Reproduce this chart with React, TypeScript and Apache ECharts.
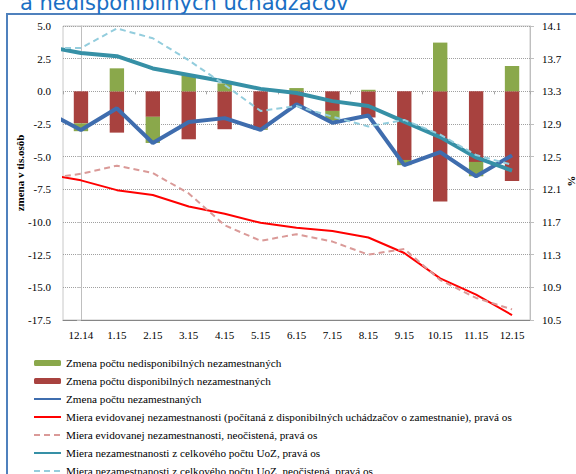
import React, { useEffect, useRef } from "react";
import * as echarts from "echarts";

const categories = ["12.14", "1.15", "2.15", "3.15", "4.15", "5.15", "6.15", "7.15", "8.15", "9.15", "10.15", "11.15", "12.15"];
// line series include the preceding month (11.14), clipped at the plot edge as in the source
const lineMonths = ["11.14", ...categories];

const nedisponibilni = [-0.6, 1.76, -2.0, 1.25, 0.61, -0.1, 0.25, -0.75, 0.12, -0.4, 3.73, -1.1, 1.94];
const disponibilni = [-2.45, -3.16, -1.95, -3.67, -2.9, -2.85, -1.2, -1.5, -2.0, -5.25, -8.44, -5.4, -6.86];
const zmenaSpolu = [-1.5, -2.96, -1.3, -3.95, -2.35, -2.05, -2.95, -1.0, -2.4, -1.85, -5.65, -4.65, -6.5, -4.9];
const mieraEvid = [12.29, 12.21, 12.09, 12.03, 11.89, 11.8, 11.69, 11.63, 11.59, 11.51, 11.32, 11.01, 10.81, 10.56];
const mieraEvidNeoc = [12.23, 12.29, 12.39, 12.3, 12.05, 11.66, 11.47, 11.55, 11.46, 11.3, 11.37, 10.99, 10.77, 10.63];
const mieraUoZ = [13.85, 13.77, 13.73, 13.58, 13.5, 13.42, 13.33, 13.28, 13.18, 13.12, 12.93, 12.74, 12.49, 12.33];
const mieraUoZNeoc = [13.83, 13.83, 14.07, 13.95, 13.68, 13.38, 13.06, 13.12, 12.99, 12.87, 12.95, 12.77, 12.52, 12.4];

const rightMin = 10.5;
const rightMax = 14.1;
const rightStep = 0.4;

const names = {
  green: "Zmena počtu nedisponibilných nezamestnaných",
  red: "Zmena počtu disponibilných nezamestnaných",
  blue: "Zmena počtu nezamestnaných",
  evid: "Miera evidovanej nezamestnanosti (počítaná z disponibilných uchádzačov o zamestnanie), pravá os",
  evidN: "Miera evidovanej nezamestnanosti, neočistená, pravá os",
  uoz: "Miera nezamestnanosti z celkového počtu UoZ, pravá os",
  uozN: "Miera nezamestnanosti z celkového počtu UoZ, neočistená, pravá os",
};

const serif = "Liberation Serif";
const legendText = { fontFamily: serif, fontSize: 11.2, color: "#000", lineHeight: 14 };

function lineData(vals: number[], offset: number) {
  return vals.map((v, i) => [i - 1, +(v - offset).toFixed(4)]);
}

const item = (name: string, hideSymbol: boolean) =>
  hideSymbol ? { name, itemStyle: { opacity: 0 }, textStyle: legendText } : { name, textStyle: legendText };

export default function App() {
  const ref = useRef<HTMLDivElement>(null);
  useEffect(() => {
    if (!ref.current) return;
    const chart = echarts.init(ref.current, undefined, { renderer: "svg" });
    const lineBase = { type: "line", xAxisIndex: 2, symbol: "none", showSymbol: false, clip: true, z: 3 };
    const legendBase = {
      orient: "vertical",
      left: 33,
      itemWidth: 27,
      itemHeight: 6,
      itemGap: 4,
      padding: 0,
      textStyle: legendText,
    };
    chart.setOption({
      animation: false,
      backgroundColor: "#ffffff",
      graphic: [
        {
          type: "rect",
          shape: { x: 7, y: 14, width: 700, height: 600 },
          style: { fill: "none", stroke: "#4F81BD", lineWidth: 2 },
          z: 0,
        },
        {
          type: "text",
          x: 20,
          y: -8,
          style: {
            text: "a nedisponibilných uchádzačov",
            fill: "#1A6FC4",
            font: "21px 'DejaVu Sans'",
          },
        },
        {
          type: "text",
          x: 572,
          y: 181,
          rotation: -Math.PI / 2,
          style: {
            text: "%",
            fill: "#000",
            font: "bold 11px 'Liberation Serif'",
            align: "center",
            verticalAlign: "middle",
          },
        },
      ],
      grid: {
        left: 63,
        right: 46,
        top: 26,
        bottom: 154,
        show: true,
        borderColor: "#C8C8C8",
        borderWidth: 1,
      },
      legend: [
        {
          ...legendBase,
          top: 356,
          data: [
            item(names.green, false),
            item(names.red, false),
            item(names.blue, true),
            item(names.evid, true),
            item(names.evidN, true),
            item(names.uoz, true),
          ],
        },
        {
          ...legendBase,
          top: 464,
          data: [item(names.uozN, true)],
        },
      ],
      xAxis: [
        {
          type: "category",
          data: categories,
          position: "bottom",
          axisLine: { onZero: false, lineStyle: { color: "#868686", width: 1 } },
          axisTick: { show: false },
          axisLabel: { fontFamily: serif, fontSize: 11, color: "#000", margin: 9 },
        },
        {
          type: "category",
          data: categories,
          position: "top",
          axisLine: { show: true, onZero: true, onZeroAxisIndex: 0, lineStyle: { color: "#A6A6A6", width: 0.5, opacity: 0 } },
          axisTick: { show: true, inside: true, length: 3, lineStyle: { color: "#A6A6A6" } },
          axisLabel: { show: false },
        },
        {
          type: "value",
          show: false,
          min: -0.5,
          max: categories.length - 0.5,
        },
      ],
      yAxis: [
        {
          type: "value",
          min: -17.5,
          max: 5,
          interval: 2.5,
          name: "zmena v tis.osôb",
          nameLocation: "middle",
          nameGap: 38,
          nameMoveOverlap: false,
          nameTextStyle: { fontFamily: serif, fontSize: 11, fontWeight: "bold", color: "#000" },
          axisLine: { show: true, lineStyle: { color: "#BFBFBF" } },
          axisTick: { show: true, length: 4, lineStyle: { color: "#BFBFBF" } },
          axisLabel: {
            fontFamily: serif,
            fontSize: 11,
            color: "#000",
            margin: 12,
            formatter: (v: number) => v.toFixed(1),
          },
          splitLine: { show: true, lineStyle: { color: "#A0A0A0", type: [1, 1], width: 1 } },
        },
        {
          type: "value",
          min: 0,
          max: +(rightMax - rightMin).toFixed(1),
          interval: rightStep,
          position: "right",
          axisLine: { show: true, lineStyle: { color: "#BFBFBF" } },
          axisTick: { show: true, length: 4, lineStyle: { color: "#BFBFBF" } },
          axisLabel: {
            fontFamily: serif,
            fontSize: 11,
            color: "#000",
            margin: 12,
            formatter: (v: number) => (v + rightMin).toFixed(1),
          },
          splitLine: { show: false },
        },
      ],
      series: [
        {
          name: names.red,
          type: "bar",
          stack: "zmena",
          barWidth: "40%",
          itemStyle: { color: "#A8423F" },
          data: disponibilni,
          z: 2,
        },
        {
          name: names.green,
          type: "bar",
          stack: "zmena",
          barWidth: "40%",
          itemStyle: { color: "#8AA84B" },
          data: nedisponibilni,
          z: 2,
        },
        {
          ...lineBase,
          name: names.blue,
          yAxisIndex: 0,
          lineStyle: { color: "#3F6DAE", width: 4 },
          itemStyle: { color: "#3F6DAE" },
          data: lineData(zmenaSpolu, 0),
        },
        {
          ...lineBase,
          name: names.evid,
          yAxisIndex: 1,
          lineStyle: { color: "#FF0000", width: 2 },
          itemStyle: { color: "#FF0000" },
          data: lineData(mieraEvid, rightMin),
        },
        {
          ...lineBase,
          name: names.evidN,
          yAxisIndex: 1,
          lineStyle: { color: "#DA9A98", width: 2, type: [6, 4] },
          itemStyle: { color: "#DA9A98" },
          data: lineData(mieraEvidNeoc, rightMin),
        },
        {
          ...lineBase,
          name: names.uoz,
          yAxisIndex: 1,
          lineStyle: { color: "#3690A6", width: 4 },
          itemStyle: { color: "#3690A6" },
          data: lineData(mieraUoZ, rightMin),
        },
        {
          ...lineBase,
          name: names.uozN,
          yAxisIndex: 1,
          lineStyle: { color: "#93CDDD", width: 2, type: [6, 4] },
          itemStyle: { color: "#93CDDD" },
          data: lineData(mieraUoZNeoc, rightMin),
        },
      ],
    });
    return () => chart.dispose();
  }, []);
  return (
    <div
      ref={ref}
      style={{ position: "absolute", left: 0, top: 0, width: 576, height: 474, background: "#fff" }}
    />
  );
}
